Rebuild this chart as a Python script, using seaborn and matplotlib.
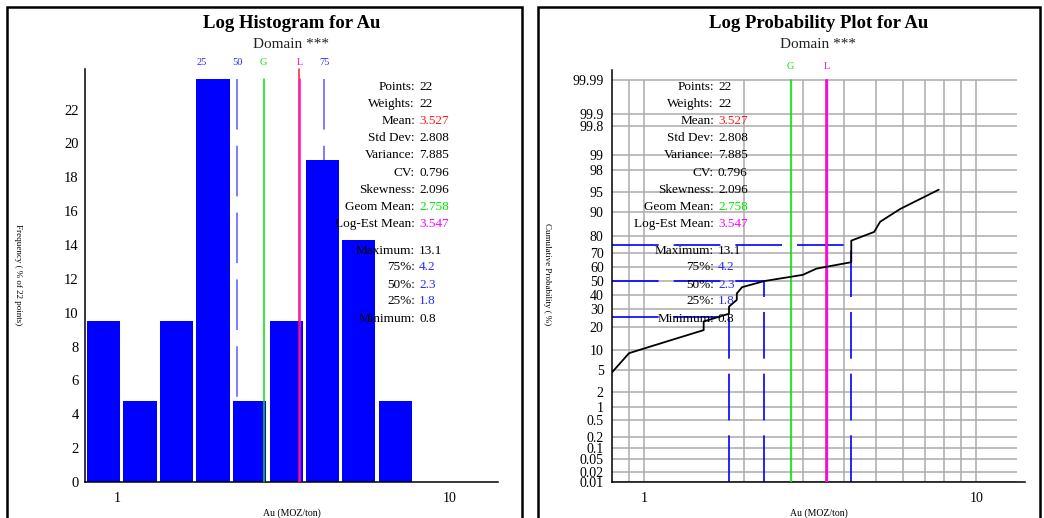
import math
from statistics import NormalDist

import numpy as np
import matplotlib
matplotlib.use("Agg")
import matplotlib.pyplot as plt
import matplotlib.transforms as mtransforms
from matplotlib.patches import Rectangle
from matplotlib.ticker import FixedLocator, FixedFormatter, NullFormatter
import seaborn as sns

# ---------------------------------------------------------------- data
# Au grades (MOZ/ton), sorted ascending
au_values = [0.8, 0.9, 1.2, 1.51, 1.51, 1.8, 1.8, 1.9, 1.9, 1.97, 2.3,
             3.0, 3.3, 4.2, 4.2, 4.2, 4.2, 4.92, 5.13, 5.9, 7.7, 13.1]

# log-spaced histogram bin edges
bin_edges = [0.80, 1.03, 1.33, 1.71, 2.20, 2.84, 3.65, 4.70, 6.05, 7.80]

# summary statistics
stat_labels = ["Points:", "Weights:", "Mean:", "Std Dev:", "Variance:", "CV:",
               "Skewness:", "Geom Mean:", "Log-Est Mean:",
               "Maximum:", "75%:", "50%:", "25%:", "Minimum:"]
stat_values = ["22", "22", "3.527", "2.808", "7.885", "0.796", "2.096",
               "2.758", "3.547", "13.1", "4.2", "2.3", "1.8", "0.8"]

mean_val = 3.527
geom_mean = 2.758
log_est_mean = 3.547
quartiles = [1.8, 2.3, 4.2]
quartile_pcts = [25, 50, 75]

prob_ticks = [0.01, 0.02, 0.05, 0.1, 0.2, 0.5, 1, 2, 5, 10, 20, 30, 40, 50,
              60, 70, 80, 90, 95, 98, 99, 99.8, 99.9, 99.99]
prob_tick_labels = ["0.01", "0.02", "0.05", "0.1", "0.2", "0.5", "1", "2", "5",
                    "10", "20", "30", "40", "50", "60", "70", "80", "90", "95",
                    "98", "99", "99.8", "99.9", "99.99"]

# ---------------------------------------------------------------- style
sns.set_theme(style="white")
plt.rcParams["font.family"] = ["Liberation Serif", "DejaVu Serif"]
plt.rcParams["axes.linewidth"] = 1.1

BLUE = "#0000ff"
QBLUE = "#2a2aff"
LIGHT_QBLUE = "#7272ff"
GREEN = "#00e600"
RED = "#ff1a1a"
MAGENTA = "#ff00ff"
GRID = "#ababab"

W, H = 1044, 518
fig = plt.figure(figsize=(W / 100, H / 100), dpi=100)
fig.patch.set_facecolor("white")


def fx(px):
    return px / W


def fy(py):
    return 1 - py / H


def axes_rect(x0, y0, x1, y1):
    return [fx(x0), fy(y1), fx(x1) - fx(x0), fy(y0) - fy(y1)]


# panel frames
for x0, x1 in [(7, 522), (538, 1040)]:
    fig.add_artist(Rectangle((fx(x0), fy(H + 10)), fx(x1) - fx(x0),
                             fy(7) - fy(H + 10), transform=fig.transFigure,
                             fill=False, lw=1.8, ec="black"))

dash = (0, (28, 9))
stat_color = {"Mean:": RED, "Geom Mean:": GREEN, "Log-Est Mean:": MAGENTA,
              "75%:": QBLUE, "50%:": QBLUE, "25%:": QBLUE}
row_y = [87, 104, 121, 138, 155.5, 172.5, 190, 207, 224,
         250.5, 267.5, 284.5, 301.5, 318.5]


def draw_stats(x_colon):
    for lab, val, yy in zip(stat_labels, stat_values, row_y):
        fig.text(fx(x_colon), fy(yy), lab, ha="right", va="center",
                 fontsize=9.5, color="black", zorder=5)
        fig.text(fx(x_colon + 4), fy(yy), val, ha="left", va="center",
                 fontsize=9.5, color=stat_color.get(lab, "black"), zorder=5)


def style_log_xaxis(ax):
    ax.set_xscale("log")
    ax.set_xlim(0.8, 14)
    ax.xaxis.set_major_locator(FixedLocator([1, 10]))
    ax.xaxis.set_major_formatter(FixedFormatter(["1", "10"]))
    ax.xaxis.set_minor_locator(FixedLocator([0.9, 2, 3, 4, 5, 6, 7, 8, 9]))
    ax.xaxis.set_minor_formatter(NullFormatter())
    ax.tick_params(axis="x", which="major", direction="inout", length=8,
                   width=1, labelsize=10, pad=3, colors="black")
    ax.tick_params(axis="x", which="minor", direction="out", length=4,
                   width=1, colors="black")
    for s in ["top", "right"]:
        ax.spines[s].set_visible(False)
    for s in ["left", "bottom"]:
        ax.spines[s].set_color("black")


# ================================================================ histogram
ax1 = fig.add_axes(axes_rect(85, 69, 498, 482))
ax1.set_facecolor("white")
sns.histplot(x=au_values, bins=np.log10(bin_edges), stat="percent",
             log_scale=True, shrink=0.91, color=BLUE, alpha=1, linewidth=0,
             ax=ax1, zorder=2)
style_log_xaxis(ax1)
ax1.set_ylim(0, 24.4)
ax1.yaxis.set_major_locator(FixedLocator(np.arange(0, 23, 2)))
ax1.tick_params(axis="y", direction="inout", length=7, width=1,
                labelsize=10.5, pad=1, colors="black")
ax1.set_xlabel("")
ax1.set_ylabel("")

bar_top = max(p.get_height() for p in ax1.patches)
for q in quartiles:
    ax1.plot([q, q], [bar_top, 0], color=LIGHT_QBLUE, lw=1.3, ls=dash,
             zorder=1)
ax1.plot([geom_mean, geom_mean], [0, bar_top], color=GREEN, lw=1.1, zorder=3)
ax1.plot([mean_val, mean_val], [0, 24.4], color=RED, lw=1.1, zorder=3,
         clip_on=False)
ax1.plot([log_est_mean, log_est_mean], [0, bar_top], color=MAGENTA, lw=1.1,
         zorder=3)

trans1 = mtransforms.blended_transform_factory(ax1.transData, ax1.transAxes)
for x, lab, c in [(quartiles[0], "25", QBLUE), (quartiles[1], "50", QBLUE),
                  (geom_mean, "G", GREEN), (log_est_mean, "L", MAGENTA),
                  (quartiles[2], "75", QBLUE)]:
    ax1.text(x, 1.016, lab, transform=trans1, ha="center", va="center",
             fontsize=7.5, color=c, clip_on=False)

fig.text(fx(292), fy(24), "Log Histogram for Au", ha="center", va="center",
         fontsize=13.5, fontweight="bold", color="black")
fig.text(fx(291), fy(45), "Domain ***", ha="center", va="center",
         fontsize=11, color="#222222")
fig.text(fx(18), fy(275), "Frequency ( % of 22 points)", rotation=270,
         ha="center", va="center", fontsize=6.5, color="black")
fig.text(fx(292), fy(513), "Au (MOZ/ton)", ha="center", va="center",
         fontsize=7, color="black")
draw_stats(415)

# ================================================================ probability plot
_nd = NormalDist()


def _to_z(p):
    p = np.clip(np.asarray(p, dtype=float), 1e-7, 100 - 1e-7)
    return np.vectorize(lambda v: _nd.inv_cdf(v / 100.0), otypes=[float])(p)


def _from_z(z):
    z = np.asarray(z, dtype=float)
    return np.vectorize(lambda v: 50.0 * (1.0 + math.erf(v / math.sqrt(2.0))),
                        otypes=[float])(z)


ax2 = fig.add_axes(axes_rect(612, 70, 1025, 482))
ax2.set_facecolor("white")
style_log_xaxis(ax2)
ax2.set_yscale("function", functions=(_to_z, _from_z))
ax2.set_ylim(0.01, 99.9953)
ax2.yaxis.set_major_locator(FixedLocator(prob_ticks))
ax2.yaxis.set_major_formatter(FixedFormatter(prob_tick_labels))
ax2.yaxis.set_minor_locator(FixedLocator([]))
ax2.tick_params(axis="y", direction="out", length=5, width=1, labelsize=10,
                pad=1, colors="black")

# grid
grid_x = [0.9, 1, 2, 3, 4, 5, 6, 7, 8, 9, 10]
ax2.vlines(grid_x, prob_ticks[0], prob_ticks[-1], color=GRID, lw=1.1, zorder=0)
ax2.hlines(prob_ticks, 0.8, 13.2, color=GRID, lw=1.1, zorder=0)

# cumulative probability of the sorted grades
n = len(au_values)
xs = np.sort(np.asarray(au_values, dtype=float))
cum_pct = np.arange(1, n + 1) / n * 100.0
sns.lineplot(x=xs[:-1], y=cum_pct[:-1], estimator=None, sort=False,
             color="black", lw=1.3, ax=ax2, zorder=4)
ax2.set_xlabel("")
ax2.set_ylabel("")

for q, p in zip(quartiles, quartile_pcts):
    ax2.plot([q, q], [prob_ticks[0], p], color=BLUE, lw=1.2, ls=dash, zorder=2)
    ax2.plot([0.8, q], [p, p], color=BLUE, lw=1.2, ls=dash, zorder=2)

ax2.plot([geom_mean, geom_mean], [prob_ticks[0], prob_ticks[-1]], color=GREEN,
         lw=1.2, zorder=3)
ax2.plot([mean_val, mean_val], [prob_ticks[0], prob_ticks[-1]], color=RED,
         lw=1.1, zorder=3)
ax2.plot([log_est_mean, log_est_mean], [prob_ticks[0], prob_ticks[-1]],
         color=MAGENTA, lw=1.6, zorder=3)

trans2 = mtransforms.blended_transform_factory(ax2.transData, ax2.transAxes)
for x, lab, c in [(geom_mean, "G", GREEN), (log_est_mean, "L", MAGENTA)]:
    ax2.text(x, 1.008, lab, transform=trans2, ha="center", va="center",
             fontsize=7.5, color=c, clip_on=False)

fig.text(fx(819), fy(24), "Log Probability Plot for Au", ha="center",
         va="center", fontsize=13.5, fontweight="bold", color="black")
fig.text(fx(818), fy(45), "Domain ***", ha="center", va="center",
         fontsize=11, color="#222222")
fig.text(fx(547), fy(274), "Cumulative Probability ( %)", rotation=270,
         ha="center", va="center", fontsize=6.5, color="black")
fig.text(fx(819), fy(513), "Au (MOZ/ton)", ha="center", va="center",
         fontsize=7, color="black")
draw_stats(714)

fig.savefig("out.png", dpi=100, facecolor="white")
